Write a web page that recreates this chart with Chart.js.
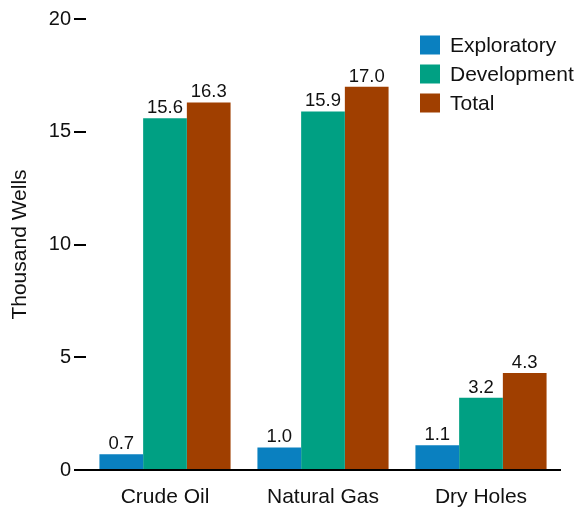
<!DOCTYPE html>
<html>
<head>
<meta charset="utf-8">
<script src="https://cdn.jsdelivr.net/npm/chart.js@4.4.0/dist/chart.umd.min.js"></script>
<style>
  html, body { margin: 0; padding: 0; background: #ffffff; }
  #wrap { width: 578px; height: 508px; position: relative; }
</style>
</head>
<body>
<div id="wrap"><canvas id="c"></canvas></div>
<script>
const categories = ['Crude Oil', 'Natural Gas', 'Dry Holes'];
const seriesNames = ['Exploratory', 'Development', 'Total'];
const exploratory = [0.7, 1.0, 1.1];
const development = [15.6, 15.9, 3.2];
const total = [16.3, 17.0, 4.3];
const yTicks = [0, 5, 10, 15, 20];
const colors = ['#0a80c0', '#00a083', '#a03f00'];

const FONT = "'Liberation Sans', Arial, Helvetica, sans-serif";

const valueLabels = {
  id: 'valueLabels',
  afterDatasetsDraw(chart) {
    const ctx = chart.ctx;
    ctx.save();
    ctx.font = '18.5px ' + FONT;
    ctx.fillStyle = '#111111';
    ctx.textAlign = 'center';
    ctx.textBaseline = 'alphabetic';
    chart.data.datasets.forEach((ds, i) => {
      const meta = chart.getDatasetMeta(i);
      meta.data.forEach((el, j) => {
        ctx.fillText(ds.data[j].toFixed(1), el.x, el.y - 5);
      });
    });
    ctx.restore();
  }
};

const customLegend = {
  id: 'customLegend',
  afterDraw(chart) {
    const ctx = chart.ctx;
    ctx.save();
    ctx.font = '21px ' + FONT;
    ctx.textBaseline = 'middle';
    ctx.textAlign = 'left';
    chart.data.datasets.forEach((ds, i) => {
      const cy = 45 + i * 29;
      ctx.fillStyle = ds.backgroundColor;
      ctx.fillRect(420, cy - 9.5, 20, 19);
      ctx.fillStyle = '#111111';
      ctx.fillText(ds.label, 450, cy + 1);
    });
    ctx.restore();
  }
};

new Chart(document.getElementById('c'), {
  type: 'bar',
  data: {
    labels: categories,
    datasets: [
      { label: seriesNames[0], data: exploratory, backgroundColor: colors[0] },
      { label: seriesNames[1], data: development, backgroundColor: colors[1] },
      { label: seriesNames[2], data: total, backgroundColor: colors[2] }
    ]
  },
  options: {
    responsive: true,
    maintainAspectRatio: false,
    animation: false,
    layout: { padding: { top: 19, right: 18, left: 0, bottom: 0 } },
    datasets: { bar: { categoryPercentage: 0.83, barPercentage: 1.0, borderWidth: 0 } },
    plugins: {
      legend: { display: false },
      tooltip: { enabled: false }
    },
    scales: {
      x: {
        grid: { display: false, drawTicks: false },
        border: { display: true, color: '#000000', width: 2 },
        ticks: { color: '#111111', font: { family: FONT, size: 21 }, padding: 15 },
        afterFit(scale) { scale.height = 38; }
      },
      y: {
        min: 0,
        max: 20,
        afterBuildTicks(scale) { scale.ticks = yTicks.map(v => ({ value: v })); },
        grid: { display: true, drawOnChartArea: false, drawTicks: true, tickLength: 12, color: '#000000', lineWidth: 2 },
        border: { display: false },
        ticks: { color: '#111111', font: { family: FONT, size: 20 }, padding: 3 },
        title: { display: true, text: 'Thousand Wells', color: '#111111', font: { family: FONT, size: 21 }, padding: { top: 7.4, bottom: 0 } },
        afterFit(scale) { scale.width = 86; }
      }
    }
  },
  plugins: [valueLabels, customLegend]
});
</script>
</body>
</html>
